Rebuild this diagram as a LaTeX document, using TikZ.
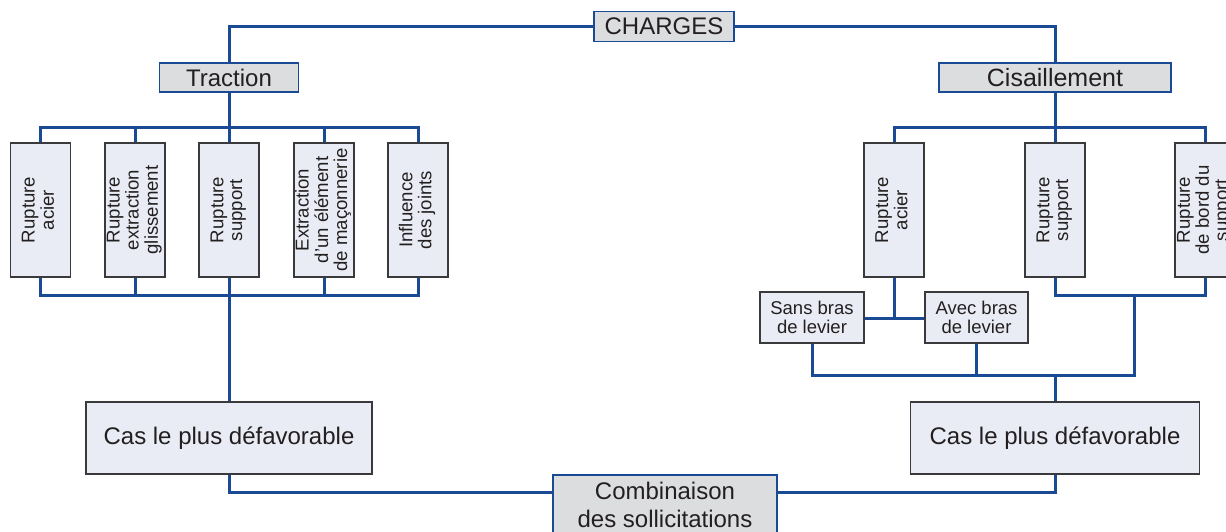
\documentclass[tikz,border=0pt]{standalone}
\usepackage{fontspec}
\usepackage{graphicx}
\setmainfont{Liberation Sans}
\definecolor{lineblue}{HTML}{1B4A94}
\definecolor{greyfill}{HTML}{DCDDDF}
\definecolor{lightfill}{HTML}{E9ECF4}
\definecolor{boxedge}{HTML}{3A3A3C}
\definecolor{txt}{HTML}{231F20}
\newcommand\talltext[1]{\rotatebox{90}{\fontsize{18.6}{18.7}\selectfont\begin{tabular}{@{}c@{}}#1\end{tabular}}}
\begin{document}
\begin{tikzpicture}[x=1pt,y=-1pt,
  greybox/.style={draw=lineblue, fill=greyfill, line width=1.4pt, inner sep=0pt, text=txt, font=\fontsize{24}{28}\selectfont, align=center},
  lbox/.style={draw=boxedge, fill=lightfill, line width=1.3pt, inner sep=0pt, text=txt, align=center},
  tallbox/.style={lbox, minimum width=60pt, minimum height=134pt},
  smallbox/.style={lbox, minimum height=51pt, font=\fontsize{18.5}{18.5}\selectfont},
  casbox/.style={lbox, minimum height=72pt, font=\fontsize{24}{28}\selectfont},
  conn/.style={draw=lineblue, line width=3pt}]
\useasboundingbox (0,0) rectangle (1226,531);
\clip (0,0) rectangle (1226,531);

% nodes
\node[greybox, minimum width=140pt, minimum height=30pt] (charges) at (664,26.5) {CHARGES};
\node[greybox, minimum width=139pt, minimum height=29pt] (traction) at (229,77.5) {Traction};
\node[greybox, minimum width=232pt, minimum height=29pt, font=\fontsize{25}{28}\selectfont] (cis) at (1055,77.5) {Cisaillement};

\node[tallbox] (t1) at (40.5,210) {\talltext{Rupture\\acier}};
\node[tallbox] (t2) at (135,210) {\talltext{Rupture\\extraction\\glissement}};
\node[tallbox] (t3) at (229,210) {\talltext{Rupture\\support}};
\node[tallbox] (t4) at (324,210) {\talltext{Extraction\\d'un élément\\de maçonnerie}};
\node[tallbox] (t5) at (418,210) {\talltext{Influence\\des joints}};

\node[tallbox] (r1) at (894,210) {\talltext{Rupture\\acier}};
\node[tallbox] (r2) at (1055,210) {\talltext{Rupture\\support}};
\node[tallbox] (r3) at (1205,210) {\talltext{Rupture\\de bord du\\support}};

\node[smallbox, minimum width=104pt] (sans) at (812,317.5) {Sans bras\\de levier};
\node[smallbox, minimum width=103pt] (avec) at (976.5,317.5) {Avec bras\\de levier};

\node[casbox, minimum width=286pt] (casL) at (229,438) {Cas le plus défavorable};
\node[casbox, minimum width=289pt] (casR) at (1055,438) {Cas le plus défavorable};

\node[greybox, minimum width=224pt, minimum height=60pt] (comb) at (665,505) {Combinaison\\des sollicitations};

% coordinates
\coordinate (tbar) at (229,127);
\coordinate (bbar) at (229,295);
\coordinate (cbar) at (1055,127);
\coordinate (lev) at (894,318);
\coordinate (bc) at (1134,295);
\coordinate (lo) at (1134,375);

% connectors
\draw[conn] (charges.west) -| (traction.north);
\draw[conn] (charges.east) -| (cis.north);

\draw[conn] (traction.south) -- (tbar);
\draw[conn] (t1.north) |- (tbar) -| (t5.north);
\draw[conn] (t2.north) -- (t2.north |- tbar);
\draw[conn] (t3.north) -- (tbar);
\draw[conn] (t4.north) -- (t4.north |- tbar);

\draw[conn] (t1.south) |- (bbar) -| (t5.south);
\draw[conn] (t2.south) -- (t2.south |- bbar);
\draw[conn] (t4.south) -- (t4.south |- bbar);
\draw[conn] (t3.south) -- (casL.north);

\draw[conn] (casL.south) |- ([yshift=13pt]comb.west);
\draw[conn] (casR.south) |- ([yshift=13pt]comb.east);

\draw[conn] (cis.south) -- (cbar);
\draw[conn] (r1.north) |- (cbar) -| (r3.north);
\draw[conn] (r2.north) -- (cbar);

\draw[conn] (r1.south) -- (lev);
\draw[conn] (sans.east |- lev) -- (avec.west |- lev);

\draw[conn] (r2.south) |- (bc) -| (r3.south);
\draw[conn] (bc) -- (lo) -| (sans.south);
\draw[conn] (avec.south) -- (avec.south |- lo);
\draw[conn] (casR.north) -- (casR.north |- lo);
\end{tikzpicture}
\end{document}
